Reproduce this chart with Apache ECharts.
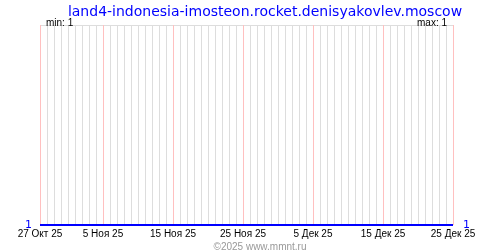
<!DOCTYPE html>
<html><head><meta charset="utf-8">
<script src="https://cdn.jsdelivr.net/npm/echarts@6/dist/echarts.min.js"></script>
<style>html,body{margin:0;padding:0;background:#fff}#c{width:500px;height:250px}</style>
</head><body><div id="c"></div>
<script>
const titleText = "land4-indonesia-imosteon.rocket.denisyakovlev.moscow";
const startDate = [2025, 9, 27]; // 27 Oct 2025
const dayCount = 60;
const monthNames = ["Янв","Фев","Мар","Апр","Май","Июн","Июл","Авг","Сен","Окт","Ноя","Дек"];
const majorIdx = [0, 9, 19, 29, 39, 49, 59];
const values = [1,1,1,1,1,1,1,1,1,1, 1,1,1,1,1,1,1,1,1,1, 1,1,1,1,1,1,1,1,1,1,
                1,1,1,1,1,1,1,1,1,1, 1,1,1,1,1,1,1,1,1,1, 1,1,1,1,1,1,1,1,1,1];
const minText = "min: 1", maxText = "max: 1";
const credit = "©2025 www.mmnt.ru";

const categories = [];
for (let i = 0; i < dayCount; i++) {
  const d = new Date(Date.UTC(startDate[0], startDate[1], startDate[2] + i));
  categories.push(d.getUTCDate() + " " + monthNames[d.getUTCMonth()] + " " + String(d.getUTCFullYear()).slice(2));
}
const F = "DejaVu Sans";
const L = "Liberation Sans";
const chart = echarts.init(document.getElementById('c'), null, {renderer: 'canvas'});
chart.setOption({
  animation: false,
  backgroundColor: '#fff',
  title: [
    {text: titleText, left: 260, top: 0, textAlign: 'center', textStyle: {color: '#0000ff', fontFamily: F, fontSize: 14, fontWeight: 'normal'}},
    {text: minText, left: 41, top: 13, textStyle: {color: '#000', fontFamily: L, fontSize: 10, fontWeight: 'normal'}},
    {text: maxText, right: 48, top: 13, textStyle: {color: '#000', fontFamily: L, fontSize: 10, fontWeight: 'normal'}},
    {text: credit, left: 255, top: 237, textAlign: 'center', textStyle: {color: '#999', fontFamily: L, fontSize: 10, fontWeight: 'normal'}}
  ],
  grid: {left: 40, right: 47, top: 25, bottom: 25},
  xAxis: {
    type: 'category', data: categories, boundaryGap: false,
    axisLine: {show: false}, axisTick: {show: false},
    splitLine: {show: true, interval: 0, lineStyle: {color: '#dddddd', width: 1}},
    axisLabel: {interval: (i) => majorIdx.includes(i), color: '#000', fontFamily: L, fontSize: 10, margin: 4}
  },
  yAxis: [
    {type: 'value', min: 1, max: 2, interval: 1, position: 'left',
     axisLine: {show: false}, axisTick: {show: false},
     splitLine: {show: true, lineStyle: {color: '#dddddd'}},
     axisLabel: {formatter: v => v === 1 ? '1' : '', color: '#0000ff', fontFamily: F, fontSize: 11, margin: 8, verticalAlign: 'middle'}},
    {type: 'value', min: 1, max: 2, interval: 1, position: 'right',
     axisLine: {show: false}, axisTick: {show: false}, splitLine: {show: false},
     axisLabel: {formatter: v => v === 1 ? '1' : '', color: '#0000ff', fontFamily: F, fontSize: 11, margin: 10, verticalAlign: 'middle'}}
  ],
  series: [{
    type: 'line', data: values, symbol: 'none',
    lineStyle: {color: '#0000ff', width: 2},
    markLine: {silent: true, symbol: 'none', label: {show: false},
      lineStyle: {color: '#ffc0c0', width: 1, type: 'solid'},
      data: majorIdx.map(i => ({xAxis: categories[i]}))},
    z: 5
  }]
});
</script></body></html>
